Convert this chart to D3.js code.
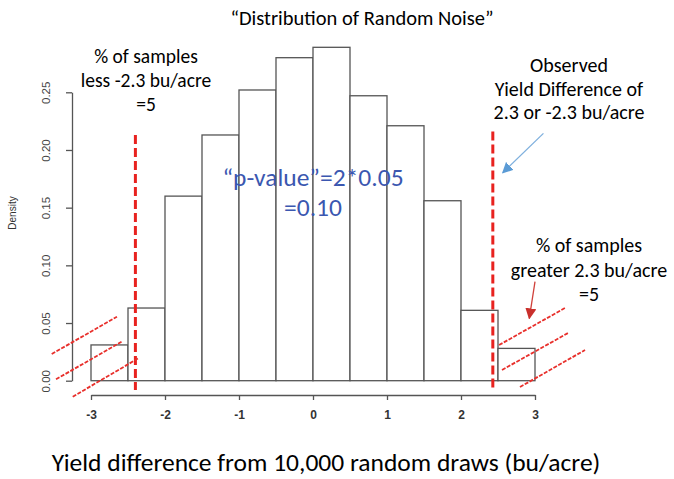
<!DOCTYPE html>
<html>
<head>
<meta charset="utf-8">
<script src="https://cdn.jsdelivr.net/npm/d3@7"></script>
<style>
  html, body { margin: 0; padding: 0; background: #fff; }
  svg { display: block; }
</style>
</head>
<body>
<svg id="chart" width="674" height="479"></svg>
<script>
// ---- data ----
const binStarts = [-3, -2.5, -2, -1.5, -1, -0.5, 0, 0.5, 1, 1.5, 2, 2.5];
const binWidth = 0.5;
const densities = [0.031, 0.063, 0.160, 0.213, 0.252, 0.280, 0.289, 0.247, 0.221, 0.156, 0.061, 0.028];
const xTicks = [-3, -2, -1, 0, 1, 2, 3];
const yTicks = [0, 0.05, 0.10, 0.15, 0.20, 0.25];
const cutoffs = [-2.4, 2.43];
const cutoffTops = [0.213, 0.216];
const cutoffBottom = -0.008;
// hatch segments in data units [x1, y1, x2, y2]
const leftHatches = [
  [-3.531, 0.0231, -2.649, 0.0555],
  [-3.473, 0.0012, -2.585, 0.0338],
  [-3.247, -0.0139, -2.361, 0.0194]
];
const rightHatches = [
  [2.514, 0.0309, 3.405, 0.0630],
  [2.554, 0.0093, 3.446, 0.0413],
  [2.797, -0.0055, 3.676, 0.0266]
];
const blueArrow = [3.114, 0.2144, 2.564, 0.1802];
const redArrow = [3.0, 0.0858, 2.923, 0.0541];

const title = "\u201cDistribution of Random Noise\u201d";
const xTitle = "Yield difference from 10,000 random draws (bu/acre)";
const yTitle = "Density";
const leftNote = ["% of samples", "less -2.3 bu/acre", "=5"];
const observedNote = ["Observed", "Yield Difference of", "2.3 or -2.3 bu/acre"];
const rightNote = ["% of samples", "greater 2.3 bu/acre", "=5"];
const pNote = ["\u201cp-value\u201d=2*0.05", "=0.10"];

// ---- chart ----
const svg = d3.select("#chart");
const x = d3.scaleLinear().domain([-3, 3]).range([91, 535]);
const y = d3.scaleLinear().domain([0, 0.25]).range([380.7, 92.3]);
const annoFont = "Carlito, Calibri, Lato, 'Open Sans', sans-serif";
const axisFont = "'Liberation Sans', Arial, Helvetica, sans-serif";
const gray = "#555";

// bars
svg.append("g").selectAll("rect")
  .data(binStarts)
  .join("rect")
  .attr("x", d => x(d))
  .attr("width", d => x(d + binWidth) - x(d))
  .attr("y", (d, i) => y(densities[i]))
  .attr("height", (d, i) => y(0) - y(densities[i]))
  .attr("fill", "#fff")
  .attr("stroke", gray)
  .attr("stroke-width", 1.3);

// x axis
const xAxisG = svg.append("g")
  .attr("transform", "translate(0,395)")
  .call(d3.axisBottom(x).tickValues(xTicks).tickSize(5).tickSizeOuter(0).tickPadding(10)
    .tickFormat(d3.format("d")));
xAxisG.select(".domain").attr("stroke", gray).attr("stroke-width", 1.3);
xAxisG.selectAll(".tick line").attr("stroke", gray).attr("stroke-width", 1.3);
xAxisG.selectAll(".tick text")
  .attr("font-family", axisFont).attr("font-size", 12).attr("font-weight", "bold").attr("fill", "#333")
  .text(d => d < 0 ? "-" + Math.abs(d) : d);

// y axis
const yAxisG = svg.append("g")
  .attr("transform", "translate(72,0)")
  .call(d3.axisLeft(y).tickValues(yTicks).tickSize(6).tickSizeOuter(0).tickFormat(d3.format(".2f")));
yAxisG.select(".domain").attr("stroke", gray).attr("stroke-width", 1.3);
yAxisG.selectAll(".tick line").attr("stroke", gray).attr("stroke-width", 1.3);
yAxisG.selectAll(".tick text")
  .attr("x", 0).attr("dy", null)
  .attr("transform", "translate(-26,0) rotate(-90)")
  .attr("text-anchor", "middle")
  .attr("dominant-baseline", "central")
  .attr("font-family", axisFont).attr("font-size", 11.5).attr("fill", "#444");

svg.append("text")
  .attr("transform", "translate(12,213) rotate(-90)")
  .attr("text-anchor", "middle").attr("dominant-baseline", "central")
  .attr("font-family", axisFont).attr("font-size", 10).attr("fill", "#333")
  .text(yTitle);

// red dashed cutoffs
svg.append("g").selectAll("line")
  .data(cutoffs)
  .join("line")
  .attr("x1", d => x(d)).attr("x2", d => x(d))
  .attr("y1", (d, i) => y(cutoffTops[i])).attr("y2", y(cutoffBottom))
  .attr("stroke", "#e8221f").attr("stroke-width", 3)
  .attr("stroke-dasharray", "9,4");

// hatches
svg.append("g").selectAll("line")
  .data(leftHatches.concat(rightHatches))
  .join("line")
  .attr("x1", d => x(d[0])).attr("y1", d => y(d[1]))
  .attr("x2", d => x(d[2])).attr("y2", d => y(d[3]))
  .attr("stroke", "#e8302c").attr("stroke-width", 1.8)
  .attr("stroke-dasharray", "4,1.5");

// arrows
const defs = svg.append("defs");
function marker(id, color) {
  defs.append("marker").attr("id", id)
    .attr("viewBox", "0 0 10 10").attr("refX", 9).attr("refY", 5)
    .attr("markerWidth", 11).attr("markerHeight", 11)
    .attr("markerUnits", "userSpaceOnUse")
    .attr("orient", "auto")
    .append("path").attr("d", "M0,0 L10,5 L0,10 Z").attr("fill", color);
}
marker("blueHead", "#5b9bd5");
marker("redHead", "#c9302c");
svg.append("line")
  .attr("x1", x(blueArrow[0])).attr("y1", y(blueArrow[1]))
  .attr("x2", x(blueArrow[2])).attr("y2", y(blueArrow[3]))
  .attr("stroke", "#7fb0de").attr("stroke-width", 1.3)
  .attr("marker-end", "url(#blueHead)");
svg.append("line")
  .attr("x1", x(redArrow[0])).attr("y1", y(redArrow[1]))
  .attr("x2", x(redArrow[2])).attr("y2", y(redArrow[3]))
  .attr("stroke", "#d0403a").attr("stroke-width", 1.3)
  .attr("marker-end", "url(#redHead)");

// text blocks
function block(lines, cx, yc, size, color, step) {
  svg.append("g").selectAll("text")
    .data(lines)
    .join("text")
    .attr("x", cx).attr("y", (d, i) => yc + i * step)
    .attr("text-anchor", "middle").attr("dominant-baseline", "central")
    .attr("font-family", annoFont).attr("font-size", size).attr("fill", color)
    .text(d => d);
}
block([title], 362, 18, 20.5, "#000", 0);
block(leftNote, 146, 56, 19.5, "#000", 24);
block(observedNote, 569, 65, 20, "#000", 23.5);
block(rightNote, 589, 245, 20, "#000", 24.5);
block(pNote, 313, 177, 25.5, "#3b57b0", 30);
block([xTitle], 326, 462, 25.5, "#000", 0);
</script>
</body>
</html>
